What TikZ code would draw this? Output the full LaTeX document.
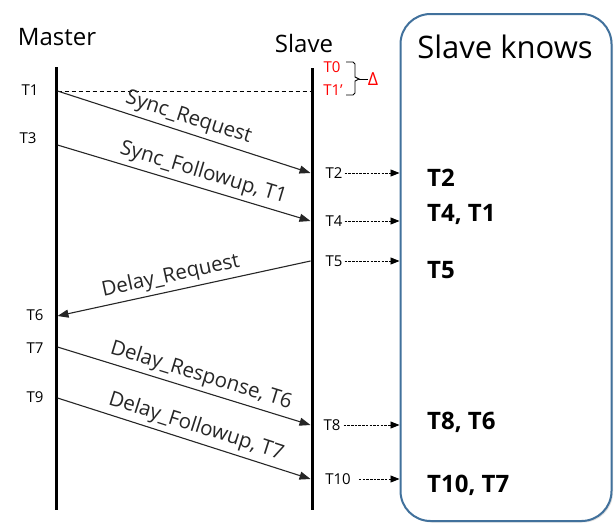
\documentclass[tikz,border=0pt]{standalone}
\usepackage{fontspec}
\setmainfont{Open Sans}
\usetikzlibrary{arrows.meta,shadows}
\definecolor{boxblue}{HTML}{41719C}
\tikzset{
  lifeline/.style={line width=3pt},
  msg/.style={line width=1.1pt, black!85, -{Triangle[length=11pt,width=8pt]}},
  inform/.style={line width=0.8pt, dash pattern=on 2.5pt off 1.2pt, -{Triangle[length=9pt,width=7pt]}},
  tlbl/.style={font=\fontsize{15}{18}\selectfont, inner sep=0pt},
  mlbl/.style={font=\fontsize{20.5}{24}\selectfont, sloped, inner sep=1pt},
  know/.style={font=\fontsize{24}{28}\selectfont\bfseries, anchor=west, inner sep=0pt},
  red/.style={text=red}
}
\begin{document}
\begin{tikzpicture}[x=1pt,y=-1pt]
\useasboundingbox (0,0) rectangle (616,525);
% box
\node[draw=boxblue, line width=2pt, rounded corners=30pt, minimum width=211pt, minimum height=507pt,
      drop shadow={shadow xshift=1.5pt, shadow yshift=-1.5pt, opacity=0.25, fill=gray}, fill=white] (box) at (506,267.5) {};
\node[font=\fontsize{31}{36}\selectfont, inner sep=0pt] (title) at (505,47) {Slave knows};
% headers
\node[font=\fontsize{24}{28}\selectfont, inner sep=0pt] (mst) at (57,37) {Master};
\node[font=\fontsize{24}{28}\selectfont, inner sep=0pt] (slv) at (304,43) {Slave};
% lifelines
\coordinate (mtop) at (56,67);
\coordinate (mbot) at (56,510);
\coordinate (stop) at (312,68);
\coordinate (sbot) at (312,510);
\draw[lifeline] (mtop) -- (mbot);
\draw[lifeline] (stop) -- (sbot);
% points on lifelines
\coordinate (m1) at (57.5,91);
\coordinate (s1) at (310.5,91);
\coordinate (s2) at (310.5,173);
\coordinate (m3) at (57.5,145);
\coordinate (s4) at (310.5,221);
\coordinate (s5) at (310.5,261);
\coordinate (m6) at (57.5,316);
\coordinate (m7) at (57.5,347);
\coordinate (s8) at (310.5,425);
\coordinate (m9) at (57.5,398);
\coordinate (s10) at (310.5,479);
% time labels master
\node[tlbl] (t1) at (30,90) {T1};
\node[tlbl] (t3) at (28,138) {T3};
\node[tlbl] (t6) at (35,315) {T6};
\node[tlbl] (t7) at (35,348) {T7};
\node[tlbl] (t9) at (35,397) {T9};
% time labels slave
\node[tlbl, red] (t0) at (332,67) {T0};
\node[tlbl, red] (t1p) at (333,90) {T1’};
\node[tlbl] (t2) at (334,173) {T2};
\node[tlbl] (t4) at (334,221) {T4};
\node[tlbl] (t5) at (334,261) {T5};
\node[tlbl] (t8) at (332,425) {T8};
\node[tlbl] (t10) at (338,479) {T10};
% delta bracket
\node[tlbl, red, font=\fontsize{18}{21}\selectfont] (delta) at (373,79) {Δ};
\coordinate (bmid) at (359,79);
\draw[red, line width=0.9pt] (346,62) -- (353,62) -- (355,64) -- (355,77) -- (bmid) -- (355,81) -- (355,93) -- (353,95) -- (346,95);
\draw[red, line width=0.9pt] (bmid) -- (delta.west);
% dashed sync line
\draw[line width=1pt, dash pattern=on 4pt off 3pt] (m1) -- (s1);
% messages
\draw[msg] (m1) -- node[mlbl, above=3pt, pos=0.5] {Sync\_Request} (s2);
\draw[msg] (m3) -- node[mlbl, above=3pt, pos=0.56] {Sync\_Followup, T1} (s4);
\draw[msg] (s5) -- node[mlbl, above=3pt, pos=0.54] {Delay\_Request} (m6);
\draw[msg] (m7) -- node[mlbl, above=3pt, pos=0.55] {Delay\_Response, T6} (s8);
\draw[msg] (m9) -- node[mlbl, above=3pt, pos=0.53] {Delay\_Followup, T7} (s10);
% informs
\draw[inform] ([xshift=2pt]t2.east) -- (t2.east -| box.west);
\draw[inform] ([xshift=2pt]t4.east) -- (t4.east -| box.west);
\draw[inform] ([xshift=2pt]t5.east) -- (t5.east -| box.west);
\draw[inform] ([xshift=3pt]t8.east) -- (t8.east -| box.west);
\draw[inform] ([xshift=8pt]t10.east) -- (t10.east -| box.west);
% knowledge
\node[know] (k2) at (427,178) {T2};
\node[know] (k4) at (427,214) {T4, T1};
\node[know] (k5) at (427,270) {T5};
\node[know] (k8) at (427,422) {T8, T6};
\node[know] (k10) at (427,485) {T10, T7};
\end{tikzpicture}
\end{document}
